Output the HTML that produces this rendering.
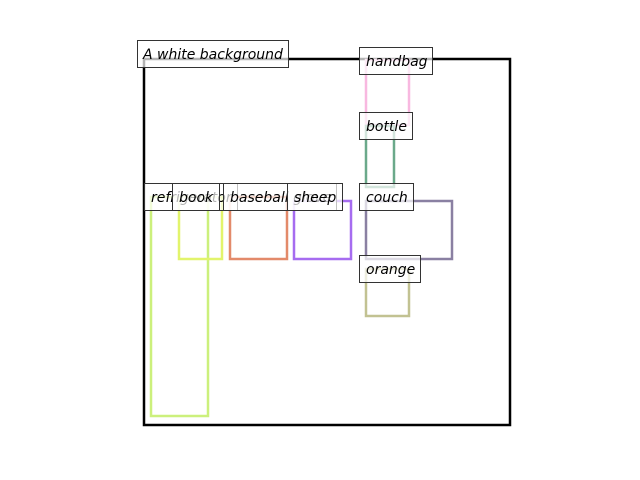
<!DOCTYPE html>
<html><head><meta charset="utf-8"><style>
html,body{margin:0;padding:0;background:#fff;}
svg{display:block}
text{font-family:"DejaVu Sans","Liberation Sans",sans-serif;font-style:italic;font-size:14px;fill:#000}
.b{stroke:#333;stroke-width:1;fill:#fff;fill-opacity:0.7}
</style></head><body>
<svg width="640" height="480" viewBox="0 0 640 480" xmlns="http://www.w3.org/2000/svg">
<rect x="144" y="59" width="366" height="366" fill="none" stroke="#000" stroke-width="2.5"/>
<g fill="none" stroke-width="2.5">
<rect x="151" y="197" width="57" height="219" stroke="#ccf07c"/>
<rect x="179" y="197" width="43" height="62" stroke="#e2f46c"/>
<rect x="230" y="197" width="57" height="62" stroke="#e38a6a"/>
<rect x="294" y="201" width="57" height="58" stroke="#a66cf0"/>
<rect x="366" y="60" width="43" height="65" stroke="#f8b8e0"/>
<rect x="366" y="126" width="28" height="61" stroke="#6ba98a"/>
<rect x="366" y="201" width="86" height="58" stroke="#8a80a2"/>
<rect x="366" y="269" width="43" height="47" stroke="#c2c292"/>
</g>
<rect class="b" x="137.5" y="40.5" width="151" height="27"/><text x="143" y="59">A white background</text>
<rect class="b" x="359.5" y="47.5" width="73" height="27"/><text x="366" y="66">handbag</text>
<rect class="b" x="359.5" y="112.5" width="53" height="27"/><text x="366" y="131">bottle</text>
<rect class="b" x="144.5" y="183.5" width="93" height="27"/><text x="151" y="202">refrigerator</text>
<rect class="b" x="172.5" y="183.5" width="47" height="27"/><text x="179" y="202">book</text>
<rect class="b" x="223.5" y="183.5" width="113" height="27"/><text x="230" y="202">baseball glove</text>
<rect class="b" x="287.5" y="183.5" width="55" height="27"/><text x="294" y="202">sheep</text>
<rect class="b" x="359.5" y="183.5" width="54" height="27"/><text x="366" y="202">couch</text>
<rect class="b" x="359.5" y="255.5" width="61" height="27"/><text x="366" y="274">orange</text>
</svg>
</body></html>
